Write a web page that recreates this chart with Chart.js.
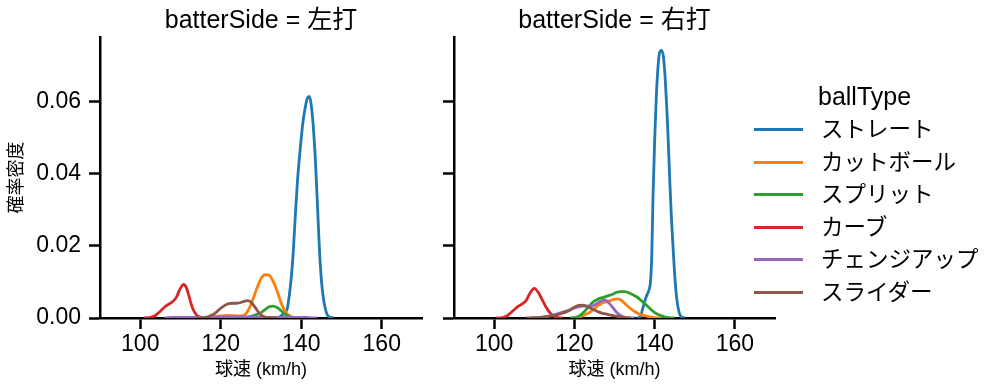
<!DOCTYPE html>
<html>
<head>
<meta charset="utf-8">
<script src="https://cdn.jsdelivr.net/npm/chart.js@4.4.0/dist/chart.umd.min.js"></script>
<style>
  body { margin: 0; background: #fff; }
  #wrap { position: relative; width: 999px; height: 391px; font-family: "Liberation Sans", "Noto Sans CJK JP", sans-serif; color: #000; }
  .panel { position: absolute; top: 0; height: 391px; }
  #left-panel { left: 0; width: 430px; }
  #right-panel { left: 430px; width: 569px; }
  #legend { position: absolute; left: 754px; top: 0; width: 245px; height: 391px; }
  #legend .title { position: absolute; left: 64px; top: 81px; font-size: 25px; line-height: 30px; }
  #legend .row { position: absolute; left: 0; height: 32px; width: 245px; }
  #legend .swatch { position: absolute; left: 0; top: 14px; width: 49px; height: 3px; }
  #legend .label { position: absolute; left: 67px; top: 0; font-size: 22.5px; line-height: 32px; white-space: nowrap; }
</style>
</head>
<body>
<div id="wrap">
  <div class="panel" id="left-panel"><canvas id="left-chart"></canvas></div>
  <div class="panel" id="right-panel"><canvas id="right-chart"></canvas></div>
  <div id="legend"></div>
</div>
<script>
const ballTypes = ["ストレート", "カットボール", "スプリット", "カーブ", "チェンジアップ", "スライダー"];
const panelTitles = ["batterSide = 左打", "batterSide = 右打"];
const xTicks = [100, 120, 140, 160];
const yTicks = [0, 0.02, 0.04, 0.06];

// 左打 (batterSide = 左打)
const leftStraightX = [134, 135, 136, 136.5, 137, 137.5, 138, 138.5, 139, 139.5, 140, 140.5, 141, 141.5, 142, 142.5, 143, 143.5, 144, 144.5, 145, 145.5, 146, 146.5, 147, 148];
const leftStraightY = [0, 0.0006, 0.0016, 0.0025, 0.006, 0.011, 0.018, 0.028, 0.037, 0.044, 0.05, 0.055, 0.0585, 0.061, 0.0615, 0.059, 0.053, 0.044, 0.032, 0.0195, 0.0105, 0.0055, 0.0025, 0.0008, 0.0003, 0];
const leftCutterX = [114, 116, 118, 120, 122, 124, 125, 126, 127, 128, 129, 130, 131, 132, 133, 134, 135, 136, 137, 138, 140];
const leftCutterY = [0, 0.0002, 0.0004, 0.0006, 0.0007, 0.0006, 0.0006, 0.0009, 0.0025, 0.0052, 0.0083, 0.0109, 0.012, 0.0119, 0.0102, 0.0075, 0.0042, 0.0018, 0.0007, 0.0002, 0];
const leftSplitX = [124, 126, 127, 128, 129, 130, 131, 132, 133, 134, 135, 136, 137, 138, 140];
const leftSplitY = [0, 0.0001, 0.0003, 0.0006, 0.001, 0.0015, 0.0023, 0.0031, 0.0033, 0.0029, 0.002, 0.001, 0.0004, 0.0001, 0];
const leftCurveX = [101, 102, 103, 104, 105, 106, 107, 108, 109, 110, 110.8, 111.5, 112, 112.5, 113, 114, 115, 116];
const leftCurveY = [0, 0.0001, 0.0003, 0.0009, 0.0019, 0.003, 0.0038, 0.0045, 0.0058, 0.0083, 0.0093, 0.0083, 0.0065, 0.0045, 0.0027, 0.0008, 0.0002, 0];
const leftChangeupX = [106, 108, 112, 116, 120, 124, 128, 132, 136, 140, 142, 144];
const leftChangeupY = [0, 0.0002, 0.0002, 0.0002, 0.0003, 0.0003, 0.0003, 0.0002, 0.0002, 0.0002, 0.0001, 0];
const leftSliderX = [114, 116, 117, 118, 119, 120, 121, 122, 123, 124, 125, 126, 126.7, 127.5, 128.5, 129.5, 130.5, 132, 134];
const leftSliderY = [0, 0.0001, 0.0004, 0.0009, 0.0017, 0.0027, 0.0035, 0.004, 0.0041, 0.0041, 0.0043, 0.0047, 0.0048, 0.0044, 0.003, 0.0014, 0.0005, 0.0001, 0];

// 右打 (batterSide = 右打)
const rightStraightX = [135.5, 136.5, 137, 137.5, 138, 138.5, 139, 139.3, 139.6, 140, 140.4, 140.8, 141.2, 141.7, 142.2, 142.6, 143, 143.4, 143.8, 144.2, 144.6, 145, 145.5, 146, 146.5, 147.5];
const rightStraightY = [0, 0.0005, 0.0025, 0.0045, 0.0062, 0.0075, 0.0105, 0.018, 0.0337, 0.049, 0.061, 0.069, 0.0735, 0.0743, 0.0725, 0.067, 0.059, 0.049, 0.0375, 0.0275, 0.0195, 0.012, 0.0055, 0.002, 0.0005, 0];
const rightCutterX = [119, 121, 122, 123, 124, 125, 126, 127, 128, 129, 130, 131, 132, 133, 134, 135, 136, 137, 138, 140, 142];
const rightCutterY = [0, 0.0002, 0.0006, 0.0011, 0.0017, 0.0026, 0.0035, 0.0042, 0.0045, 0.0048, 0.0052, 0.0053, 0.0046, 0.0036, 0.0026, 0.0018, 0.0012, 0.0008, 0.0005, 0.0001, 0];
const rightSplitX = [119, 120.5, 121.5, 122.5, 123.5, 124.5, 125.5, 126.5, 127.5, 128.5, 129.5, 130.5, 131.5, 132.5, 133.5, 134.5, 135.5, 136.5, 137.5, 138.5, 139.5, 140.5, 141.5, 143, 145];
const rightSplitY = [0, 0.0002, 0.0008, 0.0018, 0.003, 0.0043, 0.005, 0.0055, 0.0058, 0.0062, 0.0066, 0.0071, 0.0073, 0.0073, 0.007, 0.0065, 0.0059, 0.005, 0.004, 0.003, 0.002, 0.0012, 0.0007, 0.0002, 0];
const rightCurveX = [100.5, 102, 103, 104, 105, 106, 107, 108, 109, 110, 111, 112, 113, 114, 115, 116, 117];
const rightCurveY = [0, 0.0001, 0.0005, 0.0013, 0.0023, 0.0032, 0.0039, 0.0049, 0.007, 0.0082, 0.0071, 0.005, 0.0029, 0.0013, 0.0005, 0.0001, 0];
const rightChangeupX = [109, 111, 113, 115, 117, 119, 120, 121, 122, 123, 124, 125, 126, 127, 127.6, 128.5, 129.5, 130.5, 131.5, 133, 135];
const rightChangeupY = [0, 0.0001, 0.0004, 0.0009, 0.0016, 0.0023, 0.0028, 0.0031, 0.0033, 0.0033, 0.0033, 0.0036, 0.0043, 0.0049, 0.005, 0.0043, 0.003, 0.0016, 0.0007, 0.0001, 0];
const rightSliderX = [108, 110, 112, 114, 116, 118, 119, 120, 121, 122, 123, 124, 125, 126, 127, 128, 129, 130, 132, 134];
const rightSliderY = [0, 0.0001, 0.0002, 0.0005, 0.001, 0.0017, 0.0023, 0.003, 0.0035, 0.0036, 0.0033, 0.0028, 0.0022, 0.0017, 0.0013, 0.0011, 0.0008, 0.0006, 0.0002, 0];

const palette = ["#1f77b4", "#ff7f0e", "#2ca02c", "#d62728", "#9467bd", "#8c564b"];
const fontFamily = '"Liberation Sans", "Noto Sans CJK JP", sans-serif';

const toPoints = (xs, ys) => xs.map((x, i) => ({ x: x, y: ys[i] }));

const buildDatasets = (seriesX, seriesY) =>
    ballTypes.map((name, i) => ({
        label: name,
        data: toPoints(seriesX[i], seriesY[i]),
        borderColor: palette[i],
        backgroundColor: palette[i],
        borderWidth: 2.8,
        pointRadius: 0,
        cubicInterpolationMode: "monotone",
        fill: false,
        order: ballTypes.length - i,
    }));

const axisBorder = { display: true, color: "#000", width: 2.5 };
const tickMarks = {
    display: true,
    drawOnChartArea: false,
    drawTicks: true,
    tickLength: 11,
    tickWidth: 2.5,
    color: "#000",
    tickColor: "#000",
};

const makeChart = (canvasId, title, datasets, showY, yWidth, rightPad) => {
    const ctx = document.getElementById(canvasId).getContext("2d");
    return new Chart(ctx, {
        type: "line",
        data: { datasets: datasets },
        options: {
            responsive: true,
            maintainAspectRatio: false,
            animation: false,
            layout: { padding: { left: 0, right: rightPad, top: 0, bottom: 0 } },
            plugins: {
                legend: { display: false },
                tooltip: { enabled: false },
                title: {
                    display: true,
                    text: title,
                    color: "#000",
                    fullSize: false,
                    font: { family: fontFamily, size: 25, weight: "normal" },
                    padding: { top: 6, bottom: 1 },
                },
            },
            scales: {
                x: {
                    type: "linear",
                    min: 90,
                    max: 170,
                    border: axisBorder,
                    grid: tickMarks,
                    afterBuildTicks: (scale) => {
                        scale.ticks = xTicks.map((v) => ({ value: v }));
                    },
                    afterFit: (scale) => {
                        scale.height = 73;
                    },
                    ticks: {
                        color: "#000",
                        maxRotation: 0,
                        padding: 2,
                        font: { family: fontFamily, size: 23 },
                    },
                    title: {
                        display: true,
                        text: "球速 (km/h)",
                        color: "#000",
                        font: { family: fontFamily, size: 18 },
                        padding: { top: 0, bottom: 10 },
                    },
                },
                y: {
                    type: "linear",
                    min: 0,
                    max: 0.078,
                    border: axisBorder,
                    grid: tickMarks,
                    afterBuildTicks: (scale) => {
                        scale.ticks = yTicks.map((v) => ({ value: v }));
                    },
                    afterFit: (scale) => {
                        scale.width = yWidth;
                    },
                    ticks: {
                        display: showY,
                        color: "#000",
                        padding: 8,
                        font: { family: fontFamily, size: 23 },
                        callback: (value) => value.toFixed(2),
                    },
                    title: {
                        display: showY,
                        text: "確率密度",
                        color: "#000",
                        font: { family: fontFamily, size: 18 },
                        padding: { top: 6, bottom: 0 },
                    },
                },
            },
        },
    });
};

const leftDatasets = buildDatasets(
    [leftStraightX, leftCutterX, leftSplitX, leftCurveX, leftChangeupX, leftSliderX],
    [leftStraightY, leftCutterY, leftSplitY, leftCurveY, leftChangeupY, leftSliderY]
);
const rightDatasets = buildDatasets(
    [rightStraightX, rightCutterX, rightSplitX, rightCurveX, rightChangeupX, rightSliderX],
    [rightStraightY, rightCutterY, rightSplitY, rightCurveY, rightChangeupY, rightSliderY]
);

makeChart("left-chart", panelTitles[0], leftDatasets, true, 100, 8);
makeChart("right-chart", panelTitles[1], rightDatasets, false, 24, 224);

// legend (seaborn puts it outside the right facet)
const legend = document.getElementById("legend");
const legendTitle = document.createElement("div");
legendTitle.className = "title";
legendTitle.textContent = "ballType";
legend.appendChild(legendTitle);
ballTypes.forEach((name, i) => {
    const row = document.createElement("div");
    row.className = "row";
    row.style.top = (130 + i * 32.5 - 16) + "px";
    const swatch = document.createElement("div");
    swatch.className = "swatch";
    swatch.style.background = palette[i];
    const label = document.createElement("div");
    label.className = "label";
    label.textContent = name;
    row.appendChild(swatch);
    row.appendChild(label);
    legend.appendChild(row);
});
</script>
</body>
</html>
